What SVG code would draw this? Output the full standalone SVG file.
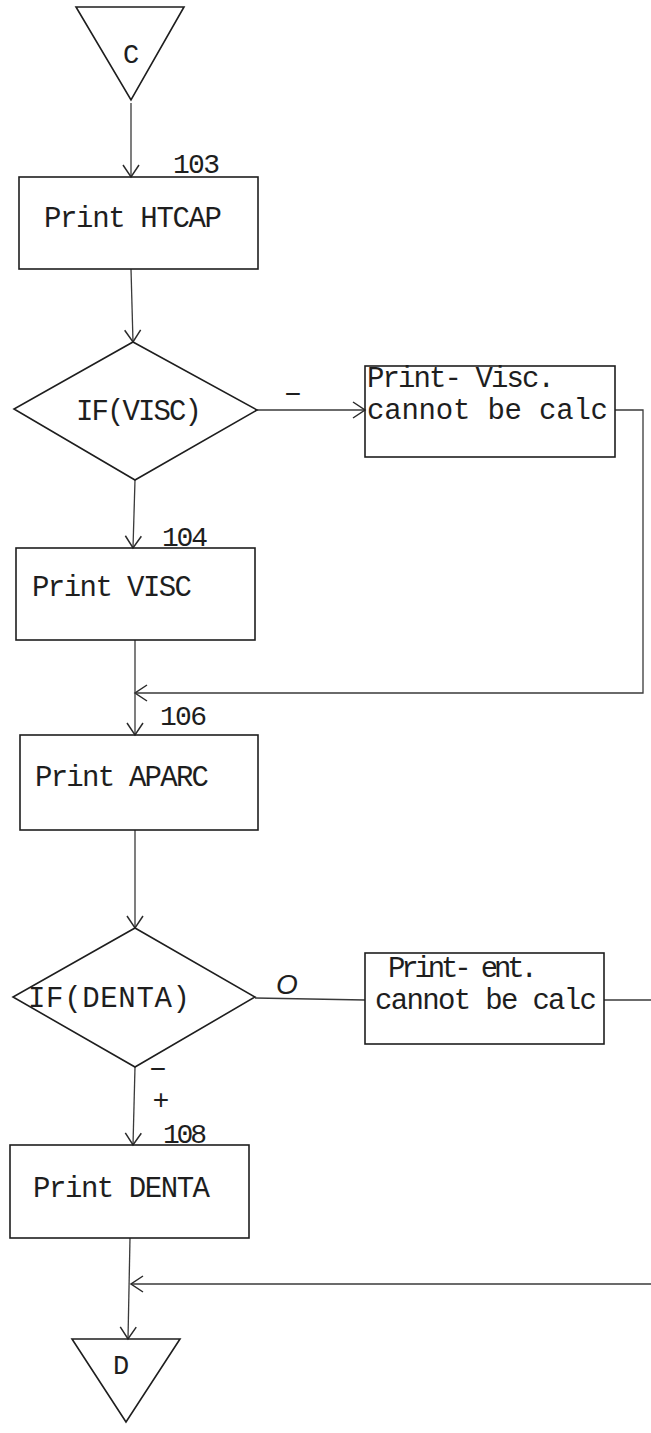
<svg xmlns="http://www.w3.org/2000/svg" width="651" height="1433" viewBox="0 0 651 1433">
<style>
.shape{fill:none;stroke:#1e1e1e;stroke-width:1.6;stroke-linejoin:miter}
.conn{fill:none;stroke:#3a3a3a;stroke-width:1.3}
.t{font-family:"Liberation Mono","DejaVu Sans Mono",monospace;font-size:29px;fill:#1e1e1e}
.n{font-family:"Liberation Mono","DejaVu Sans Mono",monospace;font-size:28px;fill:#1e1e1e}
.s{font-family:"Liberation Mono","DejaVu Sans Mono",monospace;font-size:27px;fill:#1e1e1e}
.g{font-family:"Liberation Sans","DejaVu Sans",sans-serif;font-size:28px;fill:#1e1e1e}
</style>
<defs>
<marker id="arr" viewBox="-14 -10 16 20" markerWidth="16" markerHeight="20" refX="0" refY="0" orient="auto" markerUnits="userSpaceOnUse">
<path d="M-12,-8 L0,0 L-12,8" fill="none" stroke="#2a2a2a" stroke-width="1.5"/>
</marker>
</defs>
<rect width="651" height="1433" fill="#ffffff"/>

<g id="connectors">
<line class="conn" x1="131" y1="103" x2="131" y2="177" marker-end="url(#arr)"/>
<line class="conn" x1="131" y1="269" x2="133" y2="342" marker-end="url(#arr)"/>
<line class="conn" x1="257" y1="410" x2="365" y2="410" marker-end="url(#arr)"/>
<line class="conn" x1="135" y1="480" x2="133" y2="548" marker-end="url(#arr)"/>
<polyline class="conn" points="615,410 643,410 643,693 135,693" marker-end="url(#arr)"/>
<line class="conn" x1="135" y1="640" x2="135" y2="735" marker-end="url(#arr)"/>
<line class="conn" x1="135" y1="830" x2="135" y2="928" marker-end="url(#arr)"/>
<line class="conn" x1="255" y1="998" x2="365" y2="1000"/>
<line class="conn" x1="604" y1="1000" x2="651" y2="1000"/>
<line class="conn" x1="135" y1="1067" x2="133" y2="1145" marker-end="url(#arr)"/>
<line class="conn" x1="130" y1="1238" x2="128" y2="1339" marker-end="url(#arr)"/>
<line class="conn" x1="651" y1="1284" x2="131" y2="1284" marker-end="url(#arr)"/>
<text class="g" x="293" y="403" text-anchor="middle">−</text>
<text class="g" x="287" y="994" text-anchor="middle" font-style="italic" font-size="22">O</text>
<text class="g" x="158" y="1078" text-anchor="middle" font-size="24">−</text>
<text class="g" x="161" y="1109" text-anchor="middle" font-size="22">+</text>
</g>

<g id="node-c">
<polygon class="shape" points="76,7 184,7 131,100"/>
<text class="s" x="131" y="63" text-anchor="middle">C</text>
</g>

<g id="node-htcap">
<rect class="shape" x="19" y="177" width="239" height="92"/>
<text class="n" x="173" y="173" textLength="47">103</text>
<text class="t" x="44" y="227" textLength="178">Print HTCAP</text>
</g>

<g id="node-ifvisc">
<polygon class="shape" points="133,342 257,410 135,480 14,409"/>
<text class="t" x="76" y="420" textLength="126">IF(VISC)</text>
</g>

<g id="node-visc-err">
<rect class="shape" x="365" y="366" width="250" height="91"/>
<text class="t" x="367" y="387" textLength="188">Print- Visc.</text>
<text class="t" x="367" y="419" textLength="241">cannot be calc</text>
</g>

<g id="node-visc">
<rect class="shape" x="16" y="548" width="239" height="92"/>
<text class="n" x="162" y="546" textLength="46">104</text>
<text class="t" x="32" y="596" textLength="160">Print VISC</text>
</g>

<g id="node-aparc">
<rect class="shape" x="20" y="735" width="238" height="95"/>
<text class="n" x="160" y="725" textLength="47">106</text>
<text class="t" x="35" y="786" textLength="174">Print APARC</text>
</g>

<g id="node-ifdenta">
<polygon class="shape" points="135,928 255,997 135,1067 13,997"/>
<text class="t" x="28" y="1007" textLength="162">IF(DENTA)</text>
</g>

<g id="node-denta-err">
<rect class="shape" x="365" y="953" width="239" height="91"/>
<text class="t" x="388" y="977" textLength="150">Print- ent.</text>
<text class="t" x="375" y="1009" textLength="222">cannot be calc</text>
</g>

<g id="node-denta">
<rect class="shape" x="10" y="1145" width="239" height="93"/>
<text class="n" x="163" y="1143" textLength="44">108</text>
<text class="t" x="33" y="1197" textLength="177">Print DENTA</text>
</g>

<g id="node-d">
<polygon class="shape" points="72,1339 180,1339 126,1422"/>
<text class="s" x="121" y="1374" text-anchor="middle">D</text>
</g>
</svg>
